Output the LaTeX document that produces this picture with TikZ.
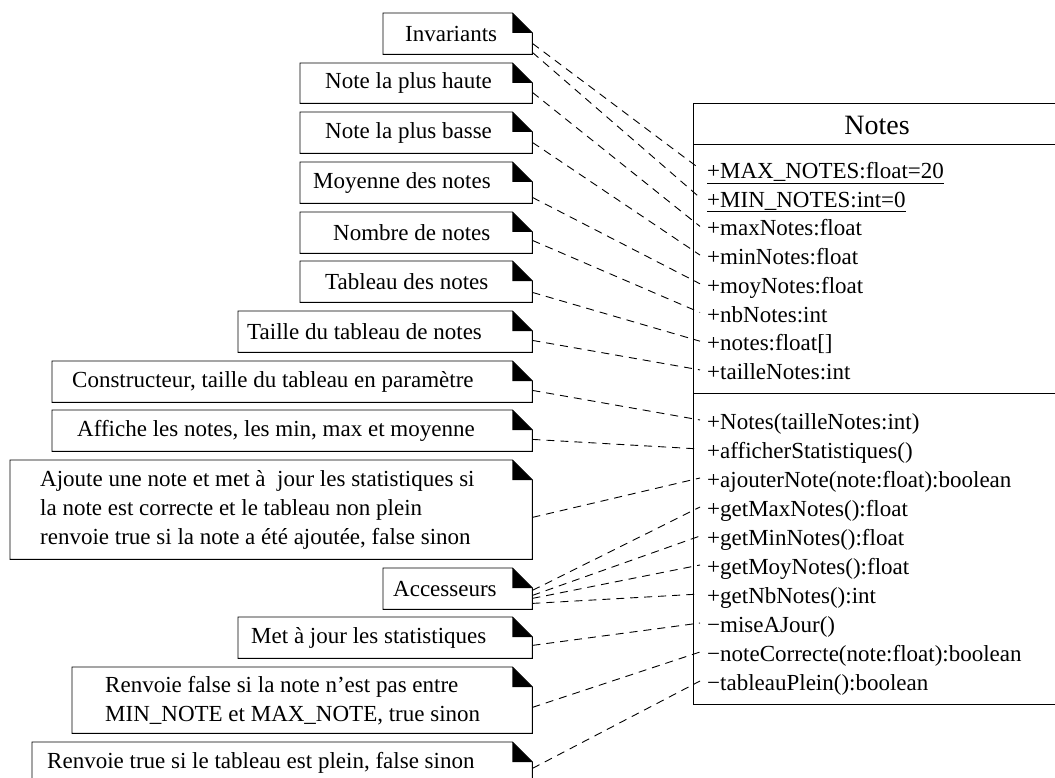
\documentclass[tikz,border=0pt]{standalone}
\usepackage{fontspec}
\setmainfont{Liberation Serif}

\tikzset{
  umlnote/.style={anchor=north west, inner sep=0pt},
  notetext/.style={anchor=west, inner sep=0pt, align=left},
  member/.style={anchor=west, inner xsep=7pt, inner ysep=0pt, text height=16pt, text depth=5pt},
  link/.style={dash pattern=on 8pt off 6pt, line width=0.9pt},
}

\begin{document}
\begin{tikzpicture}[x=1pt, y=-1pt, every node/.style={font=\fontsize{23}{29}\selectfont}]
  \useasboundingbox (0,0) rectangle (1055,778);

  % notes
  \node[umlnote, minimum width=149pt, minimum height=41pt, label={[notetext, xshift=22pt]west:Invariants}] (inv) at (383,13) {};
  \node[umlnote, minimum width=232pt, minimum height=40pt, label={[notetext, xshift=25pt]west:Note la plus haute}] (haut) at (300,63) {};
  \node[umlnote, minimum width=232pt, minimum height=41pt, label={[notetext, xshift=25pt]west:Note la plus basse}] (bas) at (300,112) {};
  \node[umlnote, minimum width=232pt, minimum height=41pt, label={[notetext, xshift=13pt]west:Moyenne des notes}] (moy) at (300,162) {};
  \node[umlnote, minimum width=232pt, minimum height=41pt, label={[notetext, xshift=33pt]west:Nombre de notes}] (nb) at (300,212) {};
  \node[umlnote, minimum width=232pt, minimum height=41pt, label={[notetext, xshift=25pt]west:Tableau des notes}] (tab) at (300,261) {};
  \node[umlnote, minimum width=294pt, minimum height=41pt, label={[notetext, xshift=9pt]west:Taille du tableau de notes}] (taille) at (238,311) {};
  \node[umlnote, minimum width=480pt, minimum height=41pt, label={[notetext, xshift=20pt]west:{Constructeur, taille du tableau en paramètre}}] (cons) at (52,361) {};
  \node[umlnote, minimum width=480pt, minimum height=41pt, label={[notetext, xshift=25pt]west:{Affiche les notes, les min, max et moyenne}}] (aff) at (52,410) {};
  \node[umlnote, minimum width=522pt, minimum height=99pt, label={[notetext, xshift=30pt]west:{Ajoute une note et met à\ \ jour les statistiques si\\la note est correcte et le tableau non plein\\renvoie true si la note a été ajoutée, false sinon}}] (ajout) at (10,460) {};
  \node[umlnote, minimum width=149pt, minimum height=41pt, label={[notetext, xshift=10pt]west:Accesseurs}] (acc) at (383,568) {};
  \node[umlnote, minimum width=294pt, minimum height=41pt, label={[notetext, xshift=13pt]west:Met à jour les statistiques}] (maj) at (238,617) {};
  \node[umlnote, minimum width=460pt, minimum height=66pt, label={[notetext, xshift=33pt]west:{Renvoie false si la note n’est pas entre\\MIN\_NOTE et MAX\_NOTE, true sinon}}] (corr) at (72,667) {};
  \node[umlnote, minimum width=500pt, minimum height=41pt, label={[notetext, xshift=15pt]west:{Renvoie true si le tableau est plein, false sinon}}] (plein) at (32,742) {};

  \foreach \n in {inv,haut,bas,moy,nb,tab,taille,cons,aff,ajout,acc,maj,corr,plein}{
    \draw[line width=0.9pt] (\n.south west) |- ([xshift=-20pt]\n.north east) -- ([yshift=-20pt]\n.north east) -- (\n.south east) -- cycle;
    \fill ([xshift=-20pt]\n.north east) -- ([xshift=-20pt,yshift=-20pt]\n.north east) -- ([yshift=-20pt]\n.north east) -- cycle;
  }

  % classe Notes
  \node[anchor=north west, draw, line width=1pt, inner sep=0pt, minimum width=368pt, minimum height=601pt] (cls) at (693,103) {};
  \node[font=\fontsize{28}{32}\selectfont] (titre) at (877,125) {Notes};
  \draw[line width=1pt] ([yshift=-42pt]cls.north west) -- ([yshift=-42pt]cls.north east);
  \draw[line width=1pt] ([yshift=-290pt]cls.north west) -- ([yshift=-290pt]cls.north east);

  \foreach \txt [count=\i] in {{\underline{+MAX\_NOTES:float=20}}, {\underline{+MIN\_NOTES:int=0}}, +maxNotes:float, +minNotes:float, +moyNotes:float, +nbNotes:int, +notes:float[], +tailleNotes:int}
    \node[member] (a\i) at (700,{144.3+28.7*\i}) {\txt};

  \foreach \txt [count=\i] in {+Notes(tailleNotes:int), +afficherStatistiques(), +ajouterNote(note:float):boolean, +getMaxNotes():float, +getMinNotes():float, +getMoyNotes():float, +getNbNotes():int, −miseAJour(), −noteCorrecte(note:float):boolean, −tableauPlein():boolean}
    \node[member] (m\i) at (700,{395+29*\i}) {\txt};

  % liens
  \foreach \n/\r/\d in {inv/a1/11, inv/a2/2, haut/a3/11, bas/a4/11, moy/a5/6, nb/a6/13, tab/a7/10, taille/a8/12, cons/m1/12, aff/m2/12, ajout/m3/42, acc/m4/19, acc/m5/14, acc/m6/11, acc/m7/6, maj/m8/13, corr/m9/26, plein/m10/15}
    \draw[link] ([yshift=\d pt]\n.south east) -- ([yshift=4pt]\r.west);
\end{tikzpicture}
\end{document}
